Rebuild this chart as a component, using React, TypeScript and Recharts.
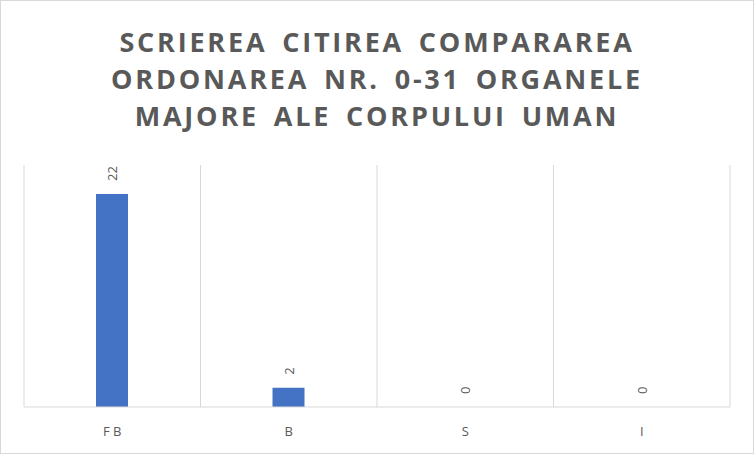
import { Bar, CartesianGrid, ComposedChart, Line, XAxis, YAxis } from 'recharts'

const categories = ['F B', 'B', 'S', 'I']
const values = [22, 2, 0, 0]
const titleLines = [
  'SCRIEREA CITIREA COMPARAREA',
  'ORDONAREA NR. 0-31 ORGANELE',
  'MAJORE ALE CORPULUI UMAN',
]

const data = categories.map((c, i) => ({ cat: c, value: values[i] }))

// data label, rotated like the Excel one, sitting above the bar top
function RotatedLabel({ x, y, value }: any) {
  const cx = x
  const cy = y - 13
  return (
    <text
      x={cx}
      y={cy}
      transform={`rotate(-90 ${cx} ${cy})`}
      textAnchor="start"
      dominantBaseline="central"
      fontSize={13}
      fill="#595959"
      fontFamily="'Open Sans', sans-serif"
    >
      {value}
    </text>
  )
}

export default function App() {
  return (
    <div
      style={{
        position: 'absolute',
        top: 0,
        left: 0,
        width: 754,
        height: 454,
        boxSizing: 'border-box',
        border: '1px solid #d9d9d9',
        background: '#fff',
      }}
    >
      <div
        style={{
          position: 'absolute',
          top: 22,
          left: 0,
          width: 752,
          textAlign: 'center',
          fontFamily: "'Open Sans', sans-serif",
          fontWeight: 700,
          fontSize: 27,
          lineHeight: '37px',
          letterSpacing: 2.8,
          wordSpacing: 5,
          color: '#595959',
        }}
      >
        {titleLines.map((l) => (
          <div key={l}>{l}</div>
        ))}
      </div>
      <div style={{ position: 'absolute', top: -1, left: -1 }}>
        <ComposedChart
          width={754}
          height={454}
          data={data}
          margin={{ top: 165, right: 24, left: 24, bottom: 0 }}
          barSize={32}
        >
          <CartesianGrid
            horizontal={false}
            stroke="#d9d9d9"
            verticalCoordinatesGenerator={({ offset }: any) =>
              categories.map((_, i) => offset.left + (i * offset.width) / categories.length).concat(offset.left + offset.width)
            }
          />
          <YAxis hide domain={[0, 25]} />
          <XAxis
            dataKey="cat"
            height={47}
            axisLine={{ stroke: '#d9d9d9' }}
            tickLine={false}
            tick={{ fontSize: 13, fill: '#595959', fontFamily: "'Open Sans', sans-serif" }}
            tickMargin={14}
          />
          <Bar dataKey="value" fill="#4472c4" isAnimationActive={false} />
          {/* invisible series only used to place the labels (zero bars get none otherwise) */}
          <Line
            dataKey="value"
            stroke="none"
            dot={false}
            activeDot={false}
            isAnimationActive={false}
            label={<RotatedLabel />}
          />
        </ComposedChart>
      </div>
    </div>
  )
}
